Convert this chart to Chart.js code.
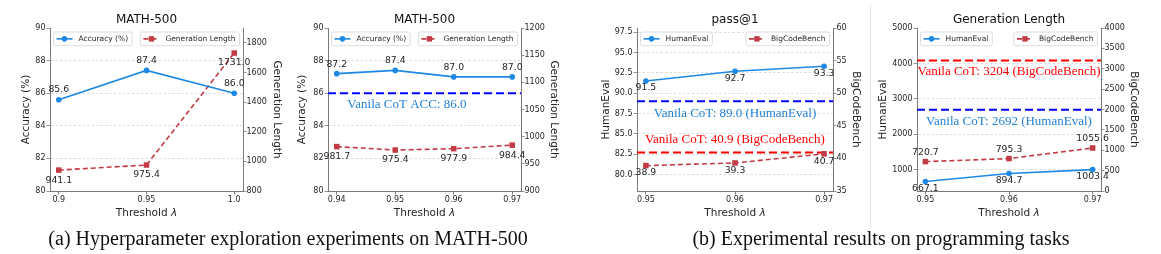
<!DOCTYPE html>
<html>
<head>
<meta charset="utf-8">
<script src="https://cdn.jsdelivr.net/npm/chart.js@4.4.1/dist/chart.umd.min.js"></script>
<style>
  body { margin: 0; background: #fff; }
  #fig { position: relative; width: 1161px; height: 254px; overflow: hidden; background: #fff; }
  #fig canvas { position: absolute; left: 0; top: 0; }
  .cap { position: absolute; top: 228px; width: 600px; text-align: center; white-space: nowrap;
         font: 20px/20px "Liberation Serif", "Times New Roman", serif; color: #111; }
  #sep { position: absolute; left: 870px; top: 5px; width: 1px; height: 223px; background: #e4e4e4; }
</style>
</head>
<body>
<div id="fig">
  <canvas id="c1" width="1161" height="254"></canvas>
  <canvas id="c2" width="1161" height="254"></canvas>
  <canvas id="c3" width="1161" height="254"></canvas>
  <canvas id="c4" width="1161" height="254"></canvas>
  <div id="sep"></div>
  <div class="cap" style="left:-12px">(a) Hyperparameter exploration experiments on MATH-500</div>
  <div class="cap" style="left:581px">(b) Experimental results on programming tasks</div>
</div>
<script>
// (a) left: MATH-500, wide threshold sweep
var thrA = [0.9, 0.95, 1.0];
var thrALabels = ['0.9', '0.95', '1.0'];
var accA = [85.6, 87.4, 86.0];
var lenA = [941.1, 975.4, 1731.0];
var accTicksA = [80, 82, 84, 86, 88, 90];
var lenTicksA = [800, 1000, 1200, 1400, 1600, 1800];

// (a) right: MATH-500, fine sweep
var thrB = [0.94, 0.95, 0.96, 0.97];
var thrBLabels = ['0.94', '0.95', '0.96', '0.97'];
var accB = [87.2, 87.4, 87.0, 87.0];
var lenB = [981.7, 975.4, 977.9, 984.4];
var vanillaAccB = 86.0;
var accTicksB = [80, 82, 84, 86, 88, 90];
var lenTicksB = [900, 950, 1000, 1050, 1100, 1150, 1200];

// (b) programming tasks
var thrC = [0.95, 0.96, 0.97];
var thrCLabels = ['0.95', '0.96', '0.97'];
var humanEvalPass = [91.5, 92.7, 93.3];
var bigCodePass = [38.9, 39.3, 40.7];
var vanillaHumanEvalPass = 89.0;
var vanillaBigCodePass = 40.9;
var passTicksHE = [80.0, 82.5, 85.0, 87.5, 90.0, 92.5, 95.0, 97.5];
var passTicksBCB = [35, 40, 45, 50, 55, 60];

var humanEvalLen = [667.1, 894.7, 1003.4];
var bigCodeLen = [720.7, 795.3, 1055.6];
var vanillaHumanEvalLen = 2692;
var vanillaBigCodeLen = 3204;
var lenTicksHE = [1000, 2000, 3000, 4000, 5000];
var lenTicksBCB = [0, 500, 1000, 1500, 2000, 2500, 3000, 3500, 4000];

var BLUE = '#1E88E5', RED = '#C23B45', SPINE = '#7a7a7a', TXT = '#262626';
var SANS = '"DejaVu Sans", Verdana, sans-serif';
var SERIF = '"Liberation Serif", "Times New Roman", serif';
var W = 1161, H = 254;

function pts(xs, ys) {
    return xs.map(function (x, i) { return { x: x, y: ys[i] }; });
}

function yAxis(pos, min, max, ticks, digits, title, titlePad, withGrid) {
    return {
        type: 'linear', position: pos, min: min, max: max,
        afterBuildTicks: function (s) { s.ticks = ticks.map(function (v) { return { value: v }; }); },
        afterFit: function (s) { s.width = 40; },
        ticks: {
            font: { family: SANS, size: 8 }, color: TXT, padding: pos === 'left' ? 1 : 0,
            callback: function (v) { return v.toFixed(digits); }
        },
        grid: {
            display: true, drawOnChartArea: withGrid, drawTicks: true, tickLength: 3.5,
            tickColor: SPINE, tickBorderDash: [], lineWidth: 0.8,
            color: function (c) {
                if (!c.tick || c.tick.value <= min || c.tick.value >= max) return 'rgba(0,0,0,0)';
                return 'rgba(0,0,0,0.17)';
            }
        },
        border: { display: true, color: SPINE, width: 1, dash: [2.5, 2] },
        title: { display: true, text: title, color: TXT, font: { family: SANS, size: 10.5 }, padding: { top: titlePad, bottom: 0 } }
    };
}

function xAxis(min, max, vals, labels) {
    return {
        type: 'linear', position: 'bottom', min: min, max: max,
        afterBuildTicks: function (s) { s.ticks = vals.map(function (v) { return { value: v }; }); },
        afterFit: function (s) { s.height = 30; },
        ticks: {
            font: { family: SANS, size: 8 }, color: TXT, padding: 1, maxRotation: 0, autoSkip: false,
            callback: function (v, i) { return labels[i]; }
        },
        grid: { display: true, drawOnChartArea: false, drawTicks: true, tickLength: 3.5, tickColor: SPINE },
        border: { display: true, color: SPINE, width: 1 }
    };
}

function series(label, xs, ys, axis, color, dashed, digits, dy) {
    return {
        label: label, data: pts(xs, ys), yAxisID: axis,
        borderColor: color, backgroundColor: color, borderWidth: 1.6,
        borderDash: dashed ? [5, 3] : [],
        pointStyle: dashed ? 'rect' : 'circle', pointRadius: dashed ? 3.9 : 2.8,
        pointBorderWidth: 0, tension: 0,
        digits: digits, labelDy: dy
    };
}

var figPlugin = {
    id: 'fig',
    beforeDatasetsDraw: function (chart, args, o) {
        var ctx = chart.ctx, a = chart.chartArea;
        (o.refs || []).forEach(function (r) {
            var y = chart.scales[r.axis].getPixelForValue(r.value);
            ctx.save();
            ctx.strokeStyle = r.color;
            ctx.lineWidth = 2;
            ctx.setLineDash([8, 4]);
            ctx.beginPath();
            ctx.moveTo(a.left, y);
            ctx.lineTo(a.right, y);
            ctx.stroke();
            ctx.restore();
        });
    },
    afterDatasetsDraw: function (chart, args, o) {
        var ctx = chart.ctx, a = chart.chartArea;
        ctx.save();
        // reference labels
        (o.refs || []).forEach(function (r) {
            var y = chart.scales[r.axis].getPixelForValue(r.value);
            ctx.font = '13px ' + SERIF;
            ctx.fillStyle = r.textColor;
            ctx.textAlign = 'center';
            ctx.textBaseline = 'middle';
            ctx.fillText(r.text, chart.scales.x.getPixelForValue(r.at), y + r.dy);
        });
        // value labels
        ctx.font = '9.3px ' + SANS;
        ctx.fillStyle = TXT;
        ctx.textAlign = 'center';
        ctx.textBaseline = 'middle';
        chart.data.datasets.forEach(function (ds, di) {
            chart.getDatasetMeta(di).data.forEach(function (p, i) {
                ctx.fillText(ds.data[i].y.toFixed(ds.digits), p.x, p.y + ds.labelDy);
            });
        });
        // legends: first series upper left, second upper right
        chart.data.datasets.forEach(function (ds, di) {
            ctx.font = '7.5px ' + SANS;
            var tw = ctx.measureText(ds.label).width;
            var w = 25 + tw + 4, h = 13.7, top = a.top + 4;
            var left = di === 0 ? a.left + 3.5 : a.right - 3.5 - w;
            ctx.beginPath();
            ctx.roundRect(left, top, w, h, 2);
            ctx.fillStyle = 'rgba(255,255,255,0.85)';
            ctx.fill();
            ctx.lineWidth = 0.8;
            ctx.strokeStyle = '#d4d4d4';
            ctx.setLineDash([]);
            ctx.stroke();
            var cy = top + h / 2;
            ctx.strokeStyle = ds.borderColor;
            ctx.lineWidth = ds.borderWidth;
            ctx.setLineDash(ds.borderDash);
            ctx.beginPath();
            ctx.moveTo(left + 3, cy);
            ctx.lineTo(left + 19, cy);
            ctx.stroke();
            ctx.setLineDash([]);
            ctx.fillStyle = ds.borderColor;
            if (ds.pointStyle === 'rect') {
                ctx.fillRect(left + 11 - 2.7, cy - 2.7, 5.4, 5.4);
            } else {
                ctx.beginPath();
                ctx.arc(left + 11, cy, 2.8, 0, Math.PI * 2);
                ctx.fill();
            }
            ctx.fillStyle = TXT;
            ctx.textAlign = 'left';
            ctx.textBaseline = 'middle';
            ctx.fillText(ds.label, left + 25, cy + 0.5);
        });
        // panel title
        var cx = (a.left + a.right) / 2;
        ctx.font = '12px ' + SANS;
        ctx.fillStyle = '#111';
        ctx.textAlign = 'center';
        ctx.textBaseline = 'alphabetic';
        ctx.fillText(o.title, cx, a.top - 5.3);
        // x title with italic lambda
        ctx.font = '10.5px ' + SANS;
        var t1 = 'Threshold ';
        var w1 = ctx.measureText(t1).width;
        ctx.font = 'oblique 10.5px ' + SANS;
        var w2 = ctx.measureText('\u03bb').width;
        var sx = cx - (w1 + w2) / 2;
        ctx.textAlign = 'left';
        ctx.fillStyle = TXT;
        ctx.font = '10.5px ' + SANS;
        ctx.fillText(t1, sx, a.bottom + 25.3);
        ctx.font = 'oblique 10.5px ' + SANS;
        ctx.fillText('\u03bb', sx + w1, a.bottom + 25.3);
        ctx.restore();
    }
};

function panel(id, box, datasets, scales, title, refs) {
    return new Chart(document.getElementById(id), {
        type: 'line',
        data: { datasets: datasets },
        options: {
            responsive: false, animation: false, events: [],
            layout: { padding: { left: box.l - 40, right: W - box.r - 40, top: box.t, bottom: H - box.b - 30 } },
            scales: scales,
            plugins: {
                legend: { display: false }, tooltip: { enabled: false },
                fig: { title: title, refs: refs || [] }
            }
        },
        plugins: [figPlugin]
    });
}

panel('c1', { l: 50, r: 243, t: 28, b: 191 }, [
    series('Accuracy (%)', thrA, accA, 'y', BLUE, false, 1, -10),
    series('Generation Length', thrA, lenA, 'y1', RED, true, 1, 10)
], {
    x: xAxis(0.895, 1.005, thrA, thrALabels),
    y: yAxis('left', 80, 90, accTicksA, 0, 'Accuracy (%)', 10.4, true),
    y1: yAxis('right', 800, 1900, lenTicksA, 0, 'Generation Length', 0, false)
}, 'MATH-500');

panel('c2', { l: 328, r: 521, t: 28, b: 191 }, [
    series('Accuracy (%)', thrB, accB, 'y', BLUE, false, 1, -9.5),
    series('Generation Length', thrB, lenB, 'y1', RED, true, 1, 10)
], {
    x: xAxis(0.9385, 0.9715, thrB, thrBLabels),
    y: yAxis('left', 80, 90, accTicksB, 0, 'Accuracy (%)', 8.4, true),
    y1: yAxis('right', 900, 1200, lenTicksB, 0, 'Generation Length', 1.4, false)
}, 'MATH-500', [
    { axis: 'y', value: vanillaAccB, color: '#0000ff', textColor: '#2280d6', at: 0.952, dy: 11,
      text: 'Vanila CoT ACC: ' + vanillaAccB.toFixed(1) }
]);

panel('c3', { l: 637, r: 833, t: 28, b: 191 }, [
    series('HumanEval', thrC, humanEvalPass, 'y', BLUE, false, 1, 7),
    series('BigCodeBench', thrC, bigCodePass, 'y1', RED, true, 1, 7.5)
], {
    x: xAxis(0.949, 0.971, thrC, thrCLabels),
    y: yAxis('left', 78, 98, passTicksHE, 1, 'HumanEval', 3.4, true),
    y1: yAxis('right', 35, 60, passTicksBCB, 0, 'BigCodeBench', 10.7, false)
}, 'pass@1', [
    { axis: 'y', value: vanillaHumanEvalPass, color: '#0000ff', textColor: '#2280d6', at: 0.96, dy: 12,
      text: 'Vanila CoT: ' + vanillaHumanEvalPass.toFixed(1) + ' (HumanEval)' },
    { axis: 'y1', value: vanillaBigCodePass, color: '#ff0000', textColor: '#ff0000', at: 0.96, dy: -12.5,
      text: 'Vanila CoT: ' + vanillaBigCodePass.toFixed(1) + ' (BigCodeBench)' }
]);

panel('c4', { l: 917, r: 1101, t: 28, b: 191 }, [
    series('HumanEval', thrC, humanEvalLen, 'y', BLUE, false, 1, 7),
    series('BigCodeBench', thrC, bigCodeLen, 'y1', RED, true, 1, -9)
], {
    x: xAxis(0.949, 0.971, thrC, thrCLabels),
    y: yAxis('left', 400, 5000, lenTicksHE, 0, 'HumanEval', 0, true),
    y1: yAxis('right', 0, 4000, lenTicksBCB, 0, 'BigCodeBench', 0.7, false)
}, 'Generation Length', [
    { axis: 'y1', value: vanillaBigCodeLen, color: '#ff0000', textColor: '#ff0000', at: 0.96, dy: 11.3,
      text: 'Vanila CoT: ' + vanillaBigCodeLen + ' (BigCodeBench)' },
    { axis: 'y', value: vanillaHumanEvalLen, color: '#0000ff', textColor: '#2280d6', at: 0.96, dy: 12,
      text: 'Vanila CoT: ' + vanillaHumanEvalLen + ' (HumanEval)' }
]);
</script>
</body>
</html>
